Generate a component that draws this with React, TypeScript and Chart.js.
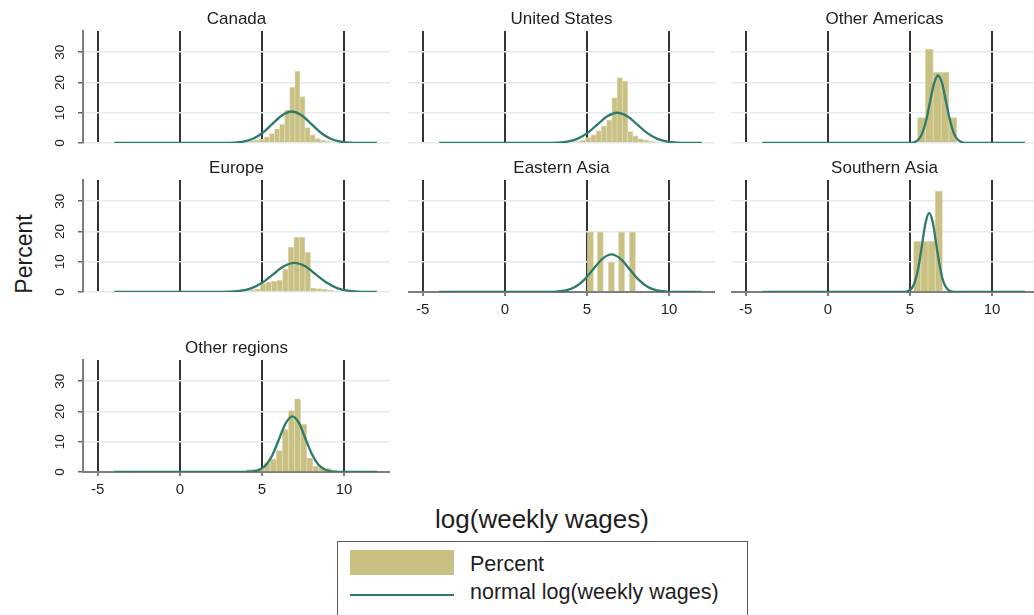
import React, { useEffect, useRef } from "react";
import { Chart, registerables } from "chart.js";

Chart.register(...registerables);

// ---------- data ----------
const X_MIN = -5.9;
const X_MAX = 12.8;
const Y_MAX = 37;
const xTickValues = [-5, 0, 5, 10];
const yTickValues = [0, 10, 20, 30];

const panelTitles = [
  "Canada",
  "United States",
  "Other Americas",
  "Europe",
  "Eastern Asia",
  "Southern Asia",
  "Other regions",
];

// histogram bins (bin centre, percent)
const canadaBinX = [-3.7, 3.44, 3.75, 4.06, 4.37, 4.68, 4.99, 5.3, 5.61, 5.92, 6.23, 6.54, 6.85, 7.16, 7.47, 7.78, 8.09, 8.4, 8.71, 9.02, 9.33];
const canadaPct = [0.3, 0.2, 0.3, 0.4, 0.7, 0.9, 1.2, 2.0, 3.1, 4.6, 6.2, 10.9, 18.4, 23.7, 15.3, 5.1, 2.7, 1.5, 0.9, 0.6, 0.4];

const usBinX = [3.48, 3.8, 4.12, 4.44, 4.76, 5.08, 5.4, 5.72, 6.04, 6.36, 6.68, 7.0, 7.32, 7.64, 7.96, 8.28, 8.6, 8.92, 9.24];
const usPct = [0.3, 0.4, 0.5, 0.5, 0.9, 1.8, 2.7, 4.0, 5.6, 7.6, 14.9, 21.6, 20.4, 3.8, 2.4, 1.4, 1.0, 0.6, 0.4];

const otherAmericasBinX = [5.7, 6.18, 6.66, 7.14, 7.62];
const otherAmericasPct = [8.4, 31.0, 23.4, 23.4, 8.4];

const europeBinX = [-3.7, 2.9, 3.71, 4.05, 4.39, 4.73, 5.07, 5.41, 5.75, 6.09, 6.43, 6.77, 7.11, 7.45, 7.79, 8.13, 8.47, 8.81, 9.15, 9.49];
const europePct = [0.3, 0.4, 0.4, 0.5, 0.6, 1.0, 2.8, 3.3, 3.5, 3.9, 7.5, 14.8, 18.1, 18.1, 13.2, 1.3, 1.1, 0.9, 0.6, 0.3];

const easternAsiaBinX = [5.21, 5.81, 6.49, 7.11, 7.77];
const easternAsiaPct = [20, 20, 10, 20, 20];

const southernAsiaBinX = [5.44, 5.88, 6.32, 6.76];
const southernAsiaPct = [16.7, 16.7, 16.7, 33.3];

const otherRegionsBinX = [4.21, 4.58, 4.95, 5.32, 5.69, 6.06, 6.43, 6.8, 7.17, 7.54, 7.91, 8.28, 8.65, 9.02, 9.39];
const otherRegionsPct = [0.8, 1.0, 1.2, 3.0, 4.3, 7.1, 14.0, 20.3, 24.2, 15.8, 4.6, 1.9, 1.5, 1.2, 0.5];

// normal curves (x, percent)
const canadaCurveX = [-4, 2.69, 3.28, 3.87, 4.46, 5.05, 5.64, 6.23, 6.82, 7.41, 8.0, 8.59, 9.18, 9.77, 10.36, 10.95, 12];
const canadaCurveY = [0, 0.02, 0.12, 0.46, 1.41, 3.38, 6.31, 9.18, 10.4, 9.18, 6.31, 3.38, 1.41, 0.46, 0.12, 0.02, 0];

const usCurveX = [-4, 2.58, 3.19, 3.8, 4.41, 5.02, 5.63, 6.24, 6.85, 7.46, 8.07, 8.68, 9.29, 9.9, 10.51, 11.12, 12];
const usCurveY = [0, 0.02, 0.11, 0.44, 1.35, 3.25, 6.07, 8.83, 10.0, 8.83, 6.07, 3.25, 1.35, 0.44, 0.11, 0.02, 0];

const otherAmericasCurveX = [-4, 5.0, 5.24, 5.49, 5.73, 5.98, 6.22, 6.47, 6.71, 6.96, 7.2, 7.45, 7.69, 7.94, 8.18, 8.43, 12];
const otherAmericasCurveY = [0, 0.05, 0.25, 0.98, 3.02, 7.24, 13.52, 19.68, 22.3, 19.68, 13.52, 7.24, 3.02, 0.98, 0.25, 0.05, 0];

const europeCurveX = [-4, 2.43, 3.08, 3.73, 4.38, 5.03, 5.68, 6.33, 6.98, 7.63, 8.28, 8.93, 9.58, 10.23, 10.88, 11.53, 12];
const europeCurveY = [0, 0.02, 0.11, 0.42, 1.3, 3.12, 5.82, 8.47, 9.6, 8.47, 5.82, 3.12, 1.3, 0.42, 0.11, 0.02, 0];

const easternAsiaCurveX = [-4, 2.61, 3.16, 3.72, 4.27, 4.83, 5.38, 5.94, 6.49, 7.05, 7.6, 8.16, 8.71, 9.27, 9.82, 10.38, 12];
const easternAsiaCurveY = [0, 0.03, 0.14, 0.54, 1.68, 4.03, 7.52, 10.94, 12.4, 10.94, 7.52, 4.03, 1.68, 0.54, 0.14, 0.03, 0];

const southernAsiaCurveX = [-4, 4.67, 4.88, 5.1, 5.31, 5.53, 5.74, 5.96, 6.17, 6.39, 6.6, 6.82, 7.03, 7.25, 7.46, 7.68, 12];
const southernAsiaCurveY = [0, 0.06, 0.29, 1.15, 3.53, 8.47, 15.83, 23.03, 26.1, 23.03, 15.83, 8.47, 3.53, 1.15, 0.29, 0.06, 0];

const otherRegionsCurveX = [-4, 4.09, 4.48, 4.88, 5.27, 5.67, 6.06, 6.46, 6.85, 7.25, 7.64, 8.04, 8.43, 8.83, 9.22, 9.62, 12];
const otherRegionsCurveY = [0, 0.04, 0.2, 0.81, 2.49, 5.97, 11.16, 16.24, 18.4, 16.24, 11.16, 5.97, 2.49, 0.81, 0.2, 0.04, 0];

const legendLabels = ["Percent", "normal log(weekly wages)"];
const xAxisTitle = "log(weekly wages)";
const yAxisTitle = "Percent";

// ---------- styles / layout ----------
const FONT = "'Liberation Sans', Arial, Helvetica, sans-serif";
const BAR_COLOR = "rgb(201,193,131)";
const BAR_EDGE = "rgb(222,217,176)";
const CURVE_COLOR = "rgb(46,122,108)";
const GRID_H = "rgb(228,236,237)";
const GRID_V = "rgb(52,52,52)";
const AXIS_COLOR = "rgb(125,125,125)";
const TEXT_COLOR = "#1e1e1e";

const COL_LEFT = [83, 408, 731];
const ROW_TOP = [31, 180, 360];
const AREA_W = 307;
const AREA_H = 112;
const TITLE_H = 20;
const Y_AXIS_W = 45;
const X_AXIS_H = 30;
const BOTTOM_PAD = 8;

type PanelSpec = {
  title: string;
  col: number;
  row: number;
  binX: number[];
  pct: number[];
  curveX: number[];
  curveY: number[];
  xAxis: boolean;
  yAxis: boolean;
  barPct: number;
};

const panels: PanelSpec[] = [
  { title: panelTitles[0], col: 0, row: 0, binX: canadaBinX, pct: canadaPct, curveX: canadaCurveX, curveY: canadaCurveY, xAxis: false, yAxis: true, barPct: 1 },
  { title: panelTitles[1], col: 1, row: 0, binX: usBinX, pct: usPct, curveX: usCurveX, curveY: usCurveY, xAxis: false, yAxis: false, barPct: 1 },
  { title: panelTitles[2], col: 2, row: 0, binX: otherAmericasBinX, pct: otherAmericasPct, curveX: otherAmericasCurveX, curveY: otherAmericasCurveY, xAxis: false, yAxis: false, barPct: 1 },
  { title: panelTitles[3], col: 0, row: 1, binX: europeBinX, pct: europePct, curveX: europeCurveX, curveY: europeCurveY, xAxis: false, yAxis: true, barPct: 1 },
  { title: panelTitles[4], col: 1, row: 1, binX: easternAsiaBinX, pct: easternAsiaPct, curveX: easternAsiaCurveX, curveY: easternAsiaCurveY, xAxis: true, yAxis: false, barPct: 0.7 },
  { title: panelTitles[5], col: 2, row: 1, binX: southernAsiaBinX, pct: southernAsiaPct, curveX: southernAsiaCurveX, curveY: southernAsiaCurveY, xAxis: true, yAxis: false, barPct: 1 },
  { title: panelTitles[6], col: 0, row: 2, binX: otherRegionsBinX, pct: otherRegionsPct, curveX: otherRegionsCurveX, curveY: otherRegionsCurveY, xAxis: true, yAxis: true, barPct: 1 },
];

function Panel({ spec }: { spec: PanelSpec }) {
  const ref = useRef<HTMLCanvasElement>(null);
  const yw = spec.yAxis ? Y_AXIS_W : 0;
  const bottom = spec.xAxis ? X_AXIS_H : BOTTOM_PAD;
  const width = AREA_W + yw;
  const height = TITLE_H + AREA_H + bottom;
  const left = COL_LEFT[spec.col] - yw;
  const top = ROW_TOP[spec.row] - TITLE_H;

  useEffect(() => {
    const canvas = ref.current;
    if (!canvas) return;
    const chart = new Chart(canvas, {
      type: "bar",
      data: {
        datasets: [
          {
            type: "line",
            data: spec.curveX.map((x, i) => ({ x, y: spec.curveY[i] })),
            borderColor: CURVE_COLOR,
            borderWidth: 2.3,
            pointRadius: 0,
            cubicInterpolationMode: "monotone",
            fill: false,
            order: 1,
          } as any,
          {
            type: "bar",
            data: spec.binX.map((x, i) => ({ x, y: spec.pct[i] })),
            backgroundColor: BAR_COLOR,
            borderColor: BAR_EDGE,
            borderWidth: 0.8,
            barPercentage: spec.barPct,
            categoryPercentage: 1,
            order: 2,
          } as any,
        ],
      },
      options: {
        animation: false,
        responsive: false,
        maintainAspectRatio: false,
        layout: { padding: { left: 0, right: 0, top: 0, bottom: spec.xAxis ? 0 : BOTTOM_PAD } },
        plugins: {
          legend: { display: false },
          tooltip: { enabled: false },
          title: {
            display: true,
            text: spec.title,
            fullSize: false,
            color: TEXT_COLOR,
            font: { family: FONT, size: 17, weight: "normal", lineHeight: 1 },
            padding: { top: 0, bottom: 3 },
          },
        },
        scales: {
          x: {
            type: "linear",
            min: X_MIN,
            max: X_MAX,
            offset: false,
            afterBuildTicks: (s: any) => {
              s.ticks = xTickValues.map((v) => ({ value: v }));
            },
            afterFit: (s: any) => {
              s.height = spec.xAxis ? X_AXIS_H : 0;
              s.paddingLeft = 0;
              s.paddingRight = 0;
            },
            grid: {
              offset: false,
              color: GRID_V,
              lineWidth: 2,
              drawTicks: spec.xAxis,
              tickLength: 4,
              tickColor: "#555",
              tickWidth: 1.5,
            },
            border: { display: spec.xAxis, color: AXIS_COLOR, width: 2 },
            ticks: {
              display: spec.xAxis,
              color: TEXT_COLOR,
              font: { family: FONT, size: 15, lineHeight: 1.2 },
              padding: 5,
              maxRotation: 0,
              autoSkip: false,
            },
          },
          y: {
            type: "linear",
            min: 0,
            max: Y_MAX,
            afterBuildTicks: (s: any) => {
              s.ticks = yTickValues.map((v) => ({ value: v }));
            },
            afterFit: (s: any) => {
              s.width = spec.yAxis ? Y_AXIS_W : 0;
              s.paddingTop = 0;
              s.paddingBottom = 0;
            },
            grid: {
              color: GRID_H,
              lineWidth: 1.5,
              drawTicks: spec.yAxis,
              tickLength: 5,
              tickColor: "#666",
              tickWidth: 1.5,
            },
            border: { display: spec.yAxis, color: AXIS_COLOR, width: 2 },
            ticks: {
              display: spec.yAxis,
              minRotation: 90,
              maxRotation: 90,
              crossAlign: "center",
              padding: 10,
              color: TEXT_COLOR,
              font: { family: FONT, size: 13.5 },
            },
          },
        },
      } as any,
    });
    return () => chart.destroy();
  }, []);

  return (
    <canvas
      ref={ref}
      width={width}
      height={height}
      style={{ position: "absolute", left, top, width, height, display: "block" }}
    />
  );
}

export default function App() {
  return (
    <div
      style={{
        position: "absolute",
        left: 0,
        top: 0,
        width: 1034,
        height: 615,
        overflow: "hidden",
        background: "#fff",
        fontFamily: FONT,
        color: TEXT_COLOR,
      }}
    >
      {panels.map((p) => (
        <Panel key={p.title} spec={p} />
      ))}

      {/* y axis title */}
      <div
        style={{
          position: "absolute",
          left: 24,
          top: 254,
          transform: "translate(-50%, -50%) rotate(-90deg)",
          fontSize: 23,
          lineHeight: 1,
          whiteSpace: "nowrap",
        }}
      >
        {yAxisTitle}
      </div>

      {/* x axis title */}
      <div
        style={{
          position: "absolute",
          left: 542,
          top: 519,
          transform: "translate(-50%, -50%)",
          fontSize: 26,
          lineHeight: 1,
          whiteSpace: "nowrap",
        }}
      >
        {xAxisTitle}
      </div>

      {/* legend */}
      <div
        style={{
          position: "absolute",
          left: 337,
          top: 541,
          width: 411,
          height: 100,
          boxSizing: "border-box",
          border: "1.5px solid #5c5c5c",
        }}
      />
      <div style={{ position: "absolute", left: 350, top: 550, width: 104, height: 25, background: BAR_COLOR }} />
      <div
        style={{ position: "absolute", left: 470, top: 553.5, fontSize: 21.5, lineHeight: 1, whiteSpace: "nowrap" }}
      >
        {legendLabels[0]}
      </div>
      <div style={{ position: "absolute", left: 350, top: 594, width: 104, height: 2.3, background: CURVE_COLOR }} />
      <div
        style={{ position: "absolute", left: 470, top: 581.5, fontSize: 21.5, lineHeight: 1, whiteSpace: "nowrap" }}
      >
        {legendLabels[1]}
      </div>
    </div>
  );
}
